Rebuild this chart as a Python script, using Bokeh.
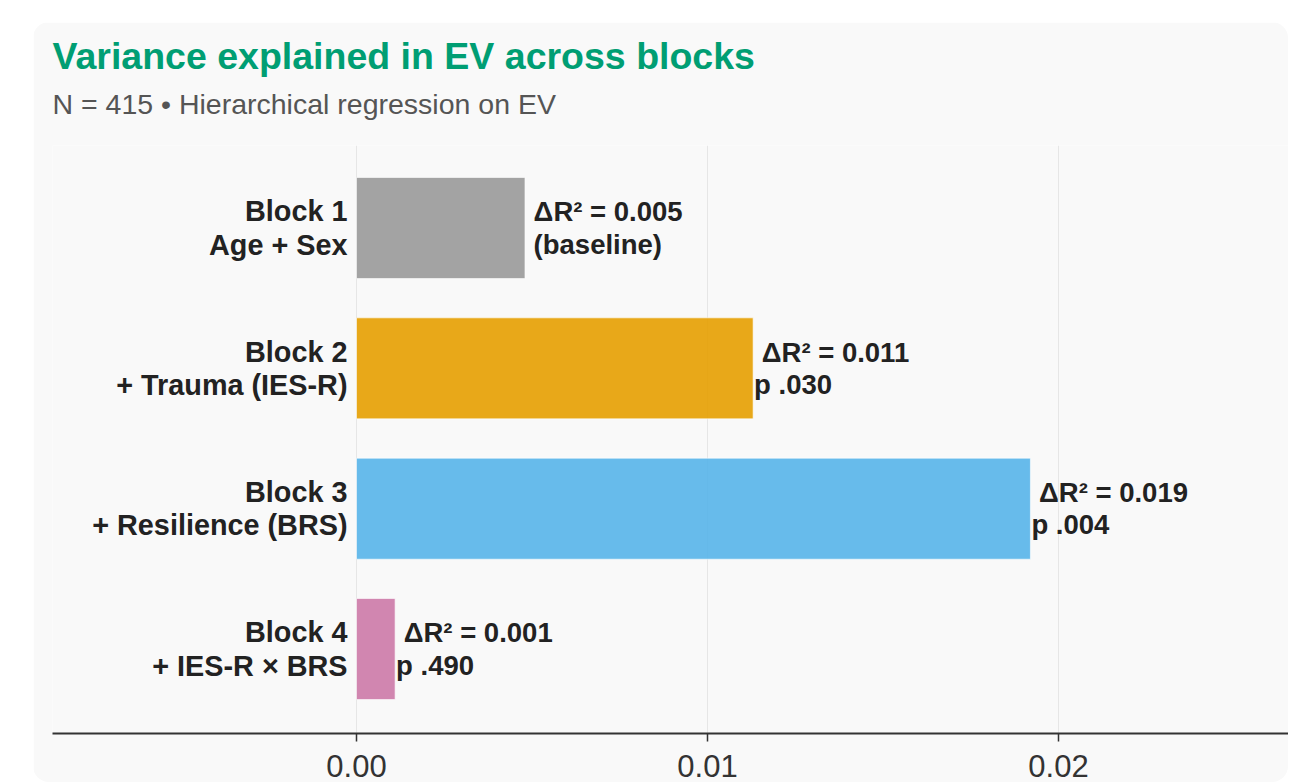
from bokeh.plotting import figure
from bokeh.models import Range1d, FixedTicker, Title, ColumnDataSource
from bokeh.core.properties import value
from bokeh.embed import file_html
from bokeh.resources import INLINE

# ---- data ----
block_labels = ["Block 1\nAge + Sex", "Block 2\n+ Trauma (IES-R)",
                "Block 3\n+ Resilience (BRS)", "Block 4\n+ IES-R × BRS"]
delta_r2 = [0.0048, 0.0113, 0.0192, 0.0011]
annotations = ["\u00a0ΔR² = 0.005\n\u00a0(baseline)", "\u00a0ΔR² = 0.011\np .030",
               "\u00a0ΔR² = 0.019\np .004", "\u00a0ΔR² = 0.001\np .490"]
bar_colors = ["#999999", "#E69F00", "#56B4E9", "#CC79A7"]
tick_values = [0.0, 0.01, 0.02]
tick_labels = ["0.00", "0.01", "0.02"]

FONT = "Liberation Sans"
BG = "#f9f9f9"

pos = list(range(len(block_labels)))
src = ColumnDataSource(dict(y=pos, right=delta_r2, label=block_labels,
                            ann=annotations, color=bar_colors,
                            zero=[0.0] * len(pos)))

p = figure(width=1255, height=760, title=None,
           x_range=Range1d(-0.008661, 0.026553),
           y_range=Range1d(3.602, -0.588),
           output_backend="svg", toolbar_location=None,
           min_border_left=19, min_border_right=0, min_border_top=123,
           min_border_bottom=49, background_fill_color=BG,
           border_fill_color=BG, outline_line_color=None,
           margin=(22, 0, 0, 33),
           styles={"border-radius": "16px", "overflow": "hidden"})

p.add_layout(Title(text="N = 415 • Hierarchical regression on EV",
                   text_font=FONT, text_font_size="28.5px",
                   text_font_style="normal", text_color="#555555",
                   align="left", standoff=52), "above")
p.add_layout(Title(text="Variance explained in EV across blocks",
                   text_font=FONT, text_font_size="37.5px",
                   text_font_style="bold", text_color="#009E73",
                   align="left", standoff=-35), "above")

p.hbar(y="y", left="zero", right="right", height=0.72, source=src,
       fill_color="color", fill_alpha=0.9, line_color="white",
       line_alpha=0.6, line_width=1)

p.text(x="zero", y="y", text="label", source=src, x_offset=-9,
       text_align="right", text_baseline="middle",
       text_font=value(FONT), text_font_size="28.8px",
       text_font_style="bold", text_color="#222222", text_line_height=1.05)

p.text(x="right", y="y", text="ann", source=src, x_offset=1,
       text_align="left", text_baseline="middle",
       text_font=value(FONT), text_font_size="27.5px",
       text_font_style="bold", text_color="#222222", text_line_height=1.04)

p.yaxis.visible = False
p.ygrid.visible = False

ax = p.xaxis[0]
ax.ticker = FixedTicker(ticks=tick_values)
ax.major_label_overrides = {t: l for t, l in zip(tick_values, tick_labels)}
ax.minor_tick_line_color = None
ax.major_tick_in = 0
ax.major_tick_out = 8
ax.major_tick_line_color = "#333333"
ax.major_tick_line_width = 1.5
ax.axis_line_color = "#333333"
ax.axis_line_width = 2
ax.major_label_text_font = FONT
ax.major_label_text_font_size = "31px"
ax.major_label_text_color = "#333333"
ax.major_label_standoff = 13

p.xgrid.ticker = FixedTicker(ticks=tick_values)
p.xgrid.grid_line_color = "#e6e6e6"
p.xgrid.grid_line_width = 1

open("out.html", "w").write(file_html(p, INLINE))
